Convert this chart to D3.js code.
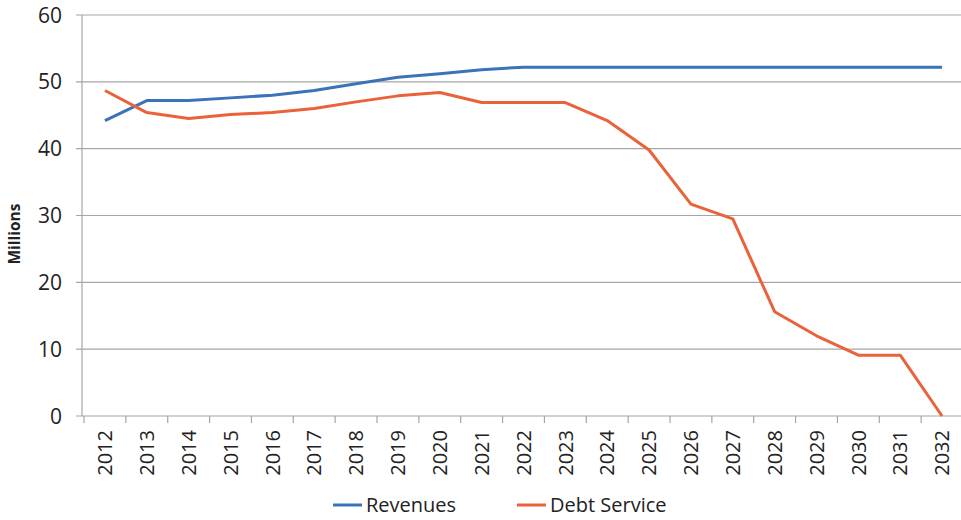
<!DOCTYPE html>
<html>
<head>
<meta charset="utf-8">
<script src="https://cdn.jsdelivr.net/npm/d3@7"></script>
<style>
  body { margin: 0; background: #fff; }
  text { font-family: "Open Sans", "Liberation Sans", sans-serif; }
</style>
</head>
<body>
<div id="chart"></div>
<script>
// data
var years = ["2012","2013","2014","2015","2016","2017","2018","2019","2020","2021","2022",
             "2023","2024","2025","2026","2027","2028","2029","2030","2031","2032"];
var revenues = [44.2, 47.2, 47.2, 47.6, 48.0, 48.7, 49.7, 50.7, 51.2, 51.8, 52.2,
                52.2, 52.2, 52.2, 52.2, 52.2, 52.2, 52.2, 52.2, 52.2, 52.2];
var debtService = [48.7, 45.4, 44.5, 45.1, 45.4, 46.0, 47.0, 47.9, 48.4, 46.9, 46.9,
                   46.9, 44.2, 39.8, 31.7, 29.5, 15.6, 12.0, 9.1, 9.1, 0];
var yTicks = [0, 10, 20, 30, 40, 50, 60];
var seriesNames = ["Revenues", "Debt Service"];
var colors = ["#3b72b9", "#e9623a"];

var W = 961, H = 520;
var margin = {top: 15, right: -2, bottom: 104, left: 82};
var width = W - margin.left - margin.right,
    height = H - margin.top - margin.bottom;

var svg = d3.select("#chart").append("svg")
    .attr("width", W).attr("height", H)
  .append("g")
    .attr("transform", `translate(${margin.left},${margin.top})`);

const x = d3.scaleBand().domain(years).range([2, width]).padding(0);
const y = d3.scaleLinear().domain([0, 60]).range([height, 0]);

// gridlines
svg.append("g").selectAll("line")
  .data(yTicks)
  .join("line")
    .attr("x1", -6).attr("x2", width)
    .attr("y1", d => y(d)).attr("y2", d => y(d))
    .attr("stroke", "#a6a6a6").attr("stroke-width", 1.2);

// y axis line
svg.append("line")
    .attr("x1", 0).attr("x2", 0).attr("y1", 0).attr("y2", height)
    .attr("stroke", "#a6a6a6").attr("stroke-width", 1.2);

// y labels
svg.append("g").selectAll("text")
  .data(yTicks)
  .join("text")
    .attr("x", -20).attr("y", d => y(d))
    .attr("dy", "0.36em")
    .attr("text-anchor", "end")
    .attr("font-size", 21)
    .attr("fill", "#222")
    .text(d => d);

svg.append("text")
    .attr("transform", `translate(-62,${219}) rotate(-90)`)
    .attr("text-anchor", "middle")
    .attr("font-size", 15.5)
    .attr("font-weight", "bold")
    .attr("fill", "#222")
    .text("Millions");

// x tick marks at band edges
var edges = years.map(d => x(d)).concat([x(years[years.length - 1]) + x.bandwidth()]);
svg.append("g").selectAll("line")
  .data(edges)
  .join("line")
    .attr("x1", d => d).attr("x2", d => d)
    .attr("y1", height).attr("y2", height + 7)
    .attr("stroke", "#a6a6a6").attr("stroke-width", 1.2);

// x labels
svg.append("g").selectAll("text")
  .data(years)
  .join("text")
    .attr("transform", d => `translate(${x(d) + x.bandwidth() / 2},${height + 14}) rotate(-90)`)
    .attr("text-anchor", "end")
    .attr("dy", "0.36em")
    .attr("font-size", 20)
    .attr("fill", "#222")
    .text(d => d);

// lines
const line = d3.line()
    .x((d, i) => x(years[i]) + x.bandwidth() / 2)
    .y(d => y(d));

[revenues, debtService].forEach((s, i) => {
  svg.append("path")
      .datum(s)
      .attr("fill", "none")
      .attr("stroke", colors[i])
      .attr("stroke-width", 3)
      .attr("stroke-linejoin", "round")
      .attr("d", line);
});

// legend
var legend = svg.append("g").attr("transform", `translate(${251},${height + 89})`);
var legX = [0, 184];
seriesNames.forEach((name, i) => {
  var g = legend.append("g").attr("transform", `translate(${legX[i]},0)`);
  g.append("line").attr("x1", 0).attr("x2", 29).attr("y1", 0).attr("y2", 0)
    .attr("stroke", colors[i]).attr("stroke-width", 3);
  g.append("text").attr("x", 33).attr("dy", "0.36em")
    .attr("font-size", 20).attr("fill", "#222").text(name);
});
</script>
</body>
</html>
